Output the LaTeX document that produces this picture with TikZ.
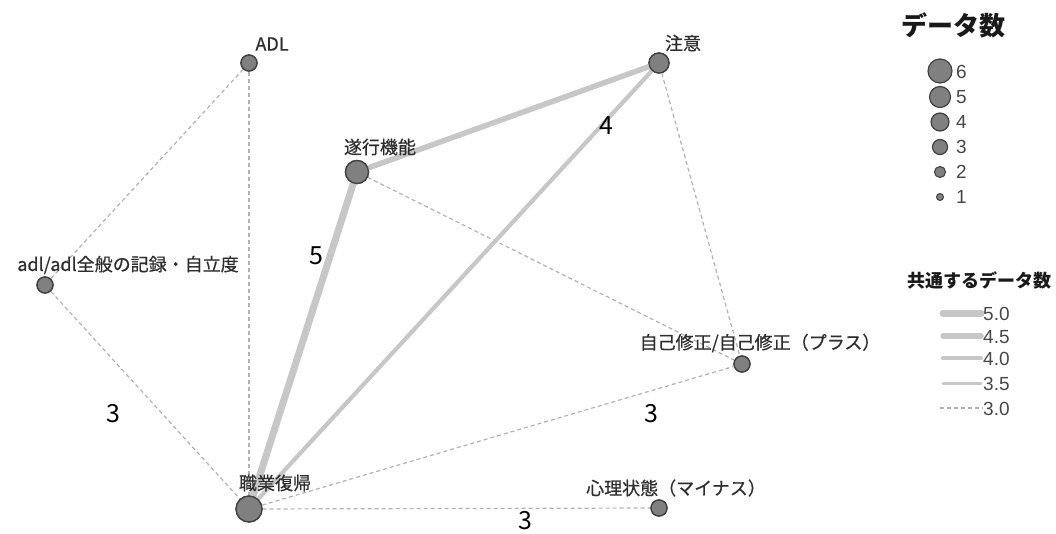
\documentclass[tikz,border=0pt]{standalone}
\usepackage{fontspec}
\setmainfont{Liberation Sans}
\newfontfamily\jp{Noto Sans CJK JP}
\newfontfamily\jpl[FakeBold=0.6]{Noto Sans CJK JP}
\begin{document}
\begin{tikzpicture}[x=1pt,y=-1pt,
  vtx/.style={circle,draw=black!75,fill=black!50,line width=1.3pt,inner sep=0pt,minimum size=#1},
  lbl/.style={text=black!82,font=\jpl\fontsize{18}{20}\selectfont,inner sep=0pt},
  elbl/.style={text=black,font=\jp\fontsize{25}{27}\selectfont,inner sep=0pt},
  lgn/.style={text=black!72,font=\fontsize{19}{21}\selectfont,inner sep=0pt,anchor=west},
  ttl/.style={text=black!90,font=\jp\bfseries\fontsize{#1}{#1}\selectfont,inner sep=0pt},
  eA/.style={draw=black!22,line width=7pt,line cap=round},
  eB/.style={draw=black!22,line width=5.5pt,line cap=round},
  eC/.style={draw=black!22,line width=4.2pt,line cap=round},
  eD/.style={draw=black!22,line width=3pt,line cap=round},
  eE/.style={draw=black!30,line width=1.2pt,dash pattern=on 4pt off 3pt},
]
\useasboundingbox (0,0) rectangle (1056,534);
% nodes
\node[vtx=16pt] (adlU) at (249,63) {};
\node[vtx=20pt] (chu) at (659,63) {};
\node[vtx=23pt] (sui) at (357,172) {};
\node[vtx=16pt] (adl) at (45,285) {};
\node[vtx=16pt] (jiko) at (742,364) {};
\node[vtx=26pt] (shoku) at (249,509) {};
\node[vtx=16pt] (shin) at (659,508) {};
% edges
\draw[eE] (adlU) -- (adl);
\draw[eE] (adlU) -- (shoku);
\draw[eE] (adl) -- (shoku);
\draw[eE] (sui) -- (jiko);
\draw[eE] (chu) -- (jiko);
\draw[eE] (shoku) -- (jiko);
\draw[eE] (shoku) -- (shin);
\draw[eC] (shoku) -- (chu);
\draw[eB] (sui) -- (chu);
\draw[eA] (shoku) -- (sui);
% redraw nodes on top
\node[vtx=16pt] at (adlU) {};
\node[vtx=20pt] at (chu) {};
\node[vtx=23pt] at (sui) {};
\node[vtx=16pt] at (adl) {};
\node[vtx=16pt] at (jiko) {};
\node[vtx=26pt] at (shoku) {};
\node[vtx=16pt] at (shin) {};
% labels
\node[lbl] (tADL) at (272,44) {ADL};
\node[lbl] (tchu) at (683,43) {注意};
\node[lbl] (tsui) at (380,147) {遂行機能};
\node[lbl] (tadl) at (128,265) {adl/adl全般の記録・自立度};
\node[lbl] (tjiko) at (760,343) {自己修正/自己修正（プラス）};
\node[lbl] (tshoku) at (275,483) {職業復帰};
\node[lbl] (tshin) at (676,488) {心理状態（マイナス）};
% edge labels
\node[elbl] (n5) at (316,256) {5};
\node[elbl] (n4) at (606,126) {4};
\node[elbl] (n3a) at (113,414) {3};
\node[elbl] (n3b) at (651,414) {3};
\node[elbl] (n3c) at (525,521) {3};
% legend 1
\node[ttl=26] (t1) at (953,25) {データ数};
\node[vtx=24pt,line width=1.2pt] (s6) at (940,71) {};
\node[vtx=21pt,line width=1.2pt] (s5) at (940,97) {};
\node[vtx=18pt,line width=1.2pt] (s4) at (940,122) {};
\node[vtx=15pt,line width=1.2pt] (s3) at (940,147) {};
\node[vtx=11pt,line width=1.1pt] (s2) at (940,172) {};
\node[vtx=7pt,line width=1pt] (s1) at (940,197) {};
\node[lgn] at (956,72) {6};
\node[lgn] at (956,97) {5};
\node[lgn] at (956,122) {4};
\node[lgn] at (956,147) {3};
\node[lgn] at (956,172) {2};
\node[lgn] at (956,197) {1};
% legend 2
\node[ttl=18] (t2) at (979,280) {共通するデータ数};
\coordinate (a1) at (943,313); \coordinate (b1) at (981,313);
\coordinate (a2) at (943,336); \coordinate (b2) at (981,336);
\coordinate (a3) at (943,358); \coordinate (b3) at (981,358);
\coordinate (a4) at (943,383); \coordinate (b4) at (981,383);
\coordinate (a5) at (940,408); \coordinate (b5) at (983,408);
\draw[eA] (a1) -- (b1);
\draw[eB] (a2) -- (b2);
\draw[eC] (a3) -- (b3);
\draw[eD] (a4) -- (b4);
\draw[eE] (a5) -- (b5);
\node[lgn] at (983,314) {5.0};
\node[lgn] at (983,337) {4.5};
\node[lgn] at (983,359) {4.0};
\node[lgn] at (983,384) {3.5};
\node[lgn] at (983,409) {3.0};
\end{tikzpicture}
\end{document}
